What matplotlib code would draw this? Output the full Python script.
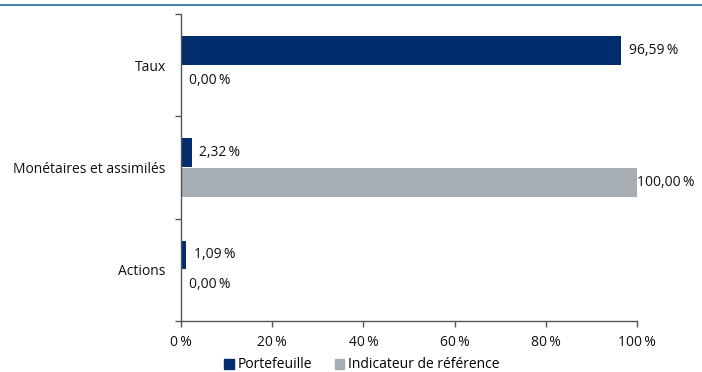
import matplotlib
matplotlib.use("Agg")
import matplotlib.pyplot as plt
from matplotlib.lines import Line2D
from matplotlib.patches import Patch
import numpy as np

categories = ["Taux", "Monétaires et assimilés", "Actions"]
portefeuille = [96.59, 2.32, 1.09]
indicateur = [0.00, 100.00, 0.00]
series_names = ["Portefeuille", "Indicateur de référence"]
x_ticks = [0, 20, 40, 60, 80, 100]

NAVY = "#002d6c"
GREY = "#a6adb3"
TEXT = "#111111"
FS = 10
X_MAX = 100

plt.rcParams["font.family"] = ["Open Sans", "DejaVu Sans"]

def fr(v):
    return f"{v:.2f}".replace(".", ",") + "\u2009%"

fig = plt.figure(figsize=(7.02, 3.72), dpi=100)
ax = fig.add_axes([181 / 702, 1 - 321 / 372, 456 / 702, 307 / 372])

y = np.arange(len(categories))
h = 0.28
ax.barh(y - 0.145, portefeuille, height=h, color=NAVY, label=series_names[0])
ax.barh(y + 0.145, indicateur, height=h, color=GREY, label=series_names[1])

def label(v, yy):
    # labels of bars that reach the axis end sit flush against the bar
    off = 0 if v >= X_MAX else 5.5
    ax.annotate(fr(v), (v, yy), xytext=(off, 0), textcoords="offset points",
                va="center", ha="left", fontsize=FS, color=TEXT,
                annotation_clip=False)

for yi, v in zip(y, portefeuille):
    label(v, yi - 0.145)
for yi, v in zip(y, indicateur):
    label(v, yi + 0.145)

ax.set_ylim(len(categories) - 0.5, -0.5)
ax.set_xlim(0, X_MAX)
ax.set_yticks(y)
ax.set_yticklabels(categories, fontsize=FS, color=TEXT)
ax.tick_params(axis="y", which="major", length=0, pad=11)
ax.set_yticks(np.arange(-0.5, len(categories)), minor=True)
ax.tick_params(axis="y", which="minor", length=4, width=1, color="#555555")

ax.set_xticks(x_ticks)
ax.set_xticklabels([f"{t}\u2009%" for t in x_ticks], fontsize=FS, color=TEXT)
ax.tick_params(axis="x", length=4, width=1, color="#555555", pad=6)

for s in ["top", "right"]:
    ax.spines[s].set_visible(False)
for s in ["left", "bottom"]:
    ax.spines[s].set_color("#555555")
    ax.spines[s].set_linewidth(1)

fig.add_artist(Line2D([0, 1], [1 - 5 / 372, 1 - 5 / 372], transform=fig.transFigure,
                      color="#1f6fa6", linewidth=1.2))

handles = [Patch(color=NAVY), Patch(color=GREY)]
fig.legend(handles, series_names, loc="center", bbox_to_anchor=(362 / 702, 1 - 365 / 372),
           ncol=2, frameon=False, fontsize=FS, handlelength=0.7, handleheight=0.7,
           handletextpad=0.3, columnspacing=1.6, borderaxespad=0, borderpad=0)

fig.savefig("out.png", dpi=100)
